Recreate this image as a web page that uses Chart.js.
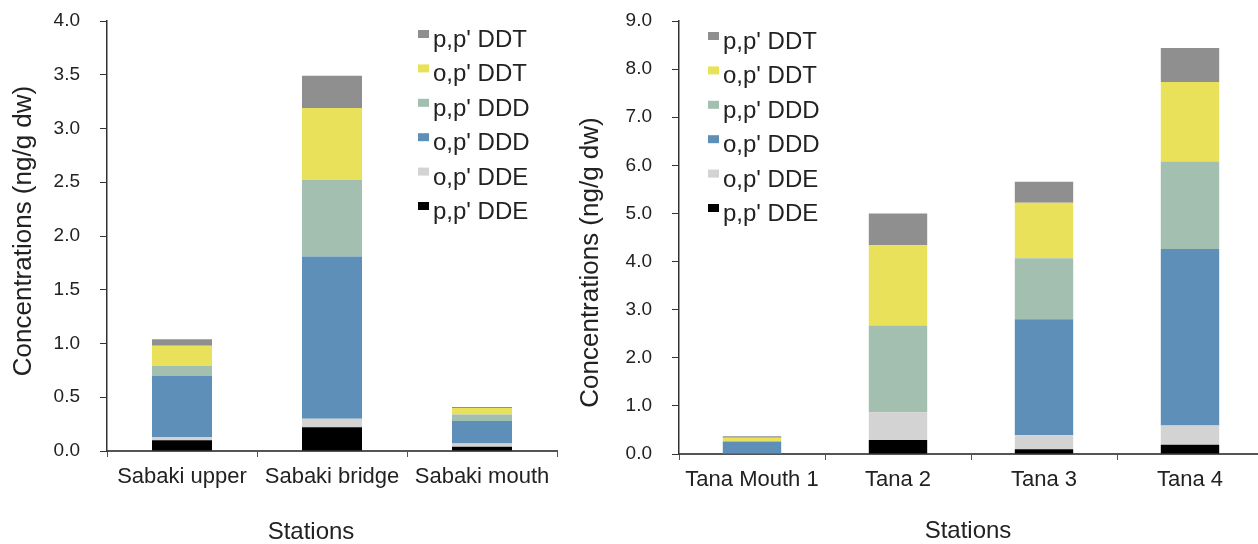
<!DOCTYPE html>
<html>
<head>
<meta charset="utf-8">
<script src="https://cdn.jsdelivr.net/npm/chart.js@4/dist/chart.umd.min.js"></script>
<style>
  html,body{margin:0;padding:0;background:#fff;overflow:hidden;width:1258px;height:544px;}
  #wrapL{position:absolute;left:0;top:0;width:570px;height:544px;}
  #wrapR{position:absolute;left:570px;top:0;width:700px;height:544px;}
</style>
</head>
<body>
<div id="wrapL"><canvas id="chL" width="570" height="544"></canvas></div>
<div id="wrapR"><canvas id="chR" width="700" height="544"></canvas></div>
<script>
// series names, bottom of stack first
const seriesNames = ["p,p' DDE", "o,p' DDE", "o,p' DDD", "p,p' DDD", "o,p' DDT", "p,p' DDT"];
const seriesColors = ['#000000', '#d3d3d3', '#5d8fb8', '#a2bfaf', '#e9e15a', '#8f8f8f'];

// Sabaki river
const sabakiStations = ['Sabaki upper', 'Sabaki bridge', 'Sabaki mouth'];
const sabakiPpDDE = [0.10, 0.22, 0.04];
const sabakiOpDDE = [0.03, 0.08, 0.03];
const sabakiOpDDD = [0.57, 1.51, 0.21];
const sabakiPpDDD = [0.09, 0.71, 0.06];
const sabakiOpDDT = [0.19, 0.67, 0.06];
const sabakiPpDDT = [0.06, 0.30, 0.01];
const sabakiTicks = ['0.0','0.5','1.0','1.5','2.0','2.5','3.0','3.5','4.0'];

// Tana river
const tanaStations = ['Tana Mouth 1', 'Tana 2', 'Tana 3', 'Tana 4'];
const tanaPpDDE = [0.00, 0.29, 0.10, 0.19];
const tanaOpDDE = [0.01, 0.58, 0.29, 0.40];
const tanaOpDDD = [0.24, 0.00, 2.41, 3.67];
const tanaPpDDD = [0.02, 1.80, 1.27, 1.82];
const tanaOpDDT = [0.07, 1.67, 1.15, 1.65];
const tanaPpDDT = [0.03, 0.66, 0.44, 0.71];
const tanaTicks = ['0.0','1.0','2.0','3.0','4.0','5.0','6.0','7.0','8.0','9.0'];

const FONT = "'Liberation Sans', Arial, Helvetica, sans-serif";
const TXT = '#222';

function datasets(cols){
  return cols.map((d,i)=>({
    label: seriesNames[i], data: d, backgroundColor: seriesColors[i],
    borderWidth: 0, barPercentage: 0.4, categoryPercentage: 1
  }));
}

// legend drawn inside the plot area, top entry = top of stack
const insideLegend = {
  id: 'insideLegend',
  afterDraw(chart, args, o){
    const {ctx, chartArea} = chart;
    const n = chart.data.datasets.length;
    ctx.save();
    ctx.font = '24px ' + FONT;
    ctx.textBaseline = 'alphabetic';
    for(let k=0;k<n;k++){
      const ds = chart.data.datasets[n-1-k];
      const y = chartArea.top + o.dy + k*34.4;
      const x = chartArea.left + o.dx;
      ctx.fillStyle = ds.backgroundColor;
      ctx.fillRect(x, y, 11, 8);
      ctx.fillStyle = TXT;
      ctx.fillText(ds.label, x + 15, y + 17);
    }
    ctx.restore();
  }
};

// axis titles, placed a little off the plot centre as in the original figure
const axisTitles = {
  id: 'axisTitles',
  afterDraw(chart, args, o){
    const {ctx, chartArea} = chart;
    ctx.save();
    ctx.fillStyle = TXT;
    ctx.textAlign = 'center';
    ctx.textBaseline = 'middle';
    ctx.font = '24px ' + FONT;
    ctx.fillText('Stations', (chartArea.left + chartArea.right)/2 + o.xDx, o.xY);
    ctx.translate(o.yX, (chartArea.top + chartArea.bottom)/2 + o.yDy);
    ctx.rotate(-Math.PI/2);
    ctx.font = '26px ' + FONT;
    ctx.fillText('Concentrations (ng/g dw)', 0, 0);
    ctx.restore();
  }
};

function makeChart(id, stations, cols, max, step, ticks, yW, xH, padRight, legendPos, titlePos){
  return new Chart(document.getElementById(id), {
    type: 'bar',
    data: { labels: stations, datasets: datasets(cols) },
    plugins: [insideLegend, axisTitles],
    options: {
      responsive: false, animation: false,
      layout: { padding: { top: 21, right: padRight, left: 0, bottom: 0 } },
      plugins: { legend: { display: false }, tooltip: { enabled: false }, insideLegend: legendPos, axisTitles: titlePos },
      scales: {
        x: {
          stacked: true,
          afterFit(s){ s.height = xH; },
          border: { display: true, color: '#555', width: 2 },
          grid: { display: true, drawOnChartArea: false, drawTicks: true, tickLength: 6, color: '#555', offset: true },
          ticks: { color: TXT, font: { family: FONT, size: 22 }, padding: 7, maxRotation: 0 }
        },
        y: {
          stacked: true, min: 0, max: max,
          afterFit(s){ s.width = yW; s.paddingTop = 10; s.paddingBottom = 10; },
          border: { display: true, color: '#333', width: 1.5 },
          grid: { display: true, drawOnChartArea: false, drawTicks: true, tickLength: 7, color: '#333' },
          ticks: { stepSize: step, color: TXT, font: { family: FONT, size: 19 }, padding: 20,
                   callback: (v, i) => ticks[i] }
        }
      }
    }
  });
}

makeChart('chL', sabakiStations,
  [sabakiPpDDE, sabakiOpDDE, sabakiOpDDD, sabakiPpDDD, sabakiOpDDT, sabakiPpDDT],
  4.0, 0.5, sabakiTicks, 107, 93, 13,
  { dx: 311, dy: 9 }, { xDx: -21, xY: 532, yX: 24, yDy: -5 });

makeChart('chR', tanaStations,
  [tanaPpDDE, tanaOpDDE, tanaOpDDD, tanaPpDDD, tanaOpDDT, tanaPpDDT],
  9.0, 1.0, tanaTicks, 109, 90, 7,
  { dx: 29, dy: 11 }, { xDx: -3, xY: 531, yX: 21, yDy: 25 });
</script>
</body>
</html>
